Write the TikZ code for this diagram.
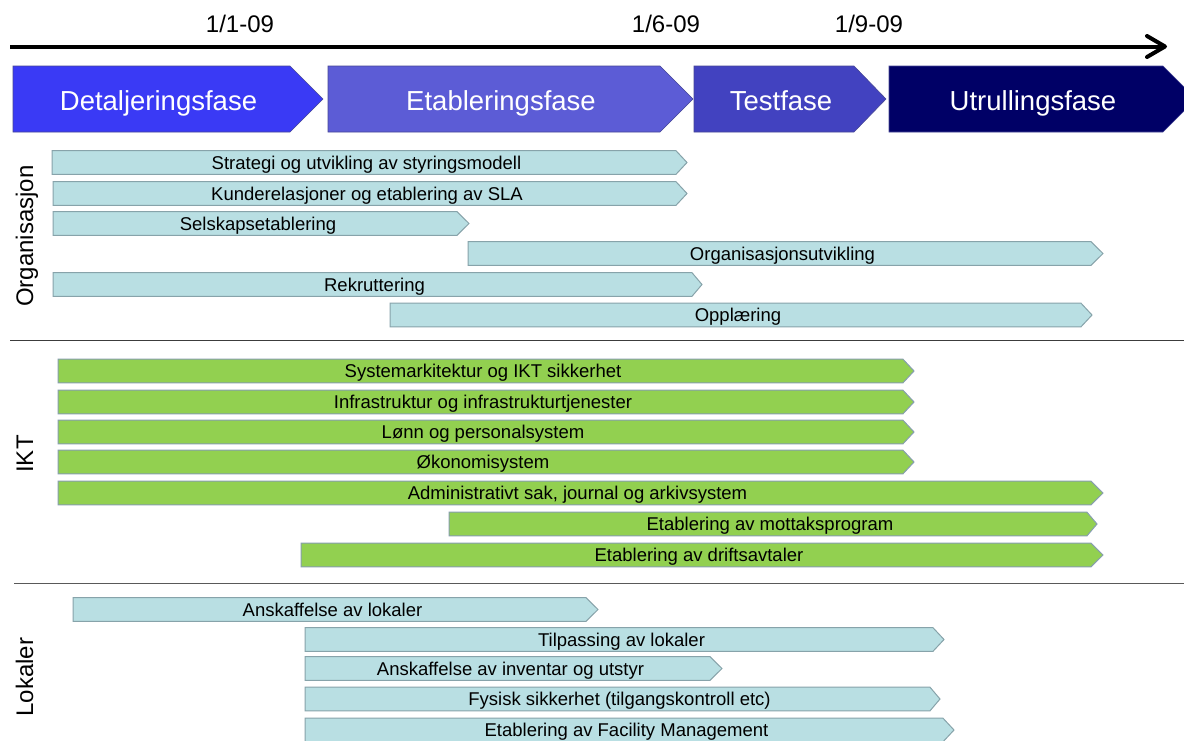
\documentclass[tikz,border=0pt]{standalone}
\usepackage{fontspec}
\setmainfont{Liberation Sans}
\usetikzlibrary{calc}
\definecolor{ph1}{RGB}{58,58,245}
\definecolor{ph2}{RGB}{92,92,214}
\definecolor{ph3}{RGB}{66,66,192}
\definecolor{ph4}{RGB}{0,0,102}
\definecolor{phedge}{RGB}{70,70,150}
\definecolor{aqua}{RGB}{185,223,227}
\definecolor{aquaedge}{RGB}{135,163,170}
\definecolor{grn}{RGB}{146,208,80}
\definecolor{grnedge}{RGB}{135,158,175}
\definecolor{sepcol}{RGB}{60,60,60}
% #1 name, #2 style, #3 y centre, #4 x left, #5 x rect right, #6 x tip, #7 text
\newcommand{\gbar}[7]{%
  \draw[#2] (#4,#3-11.8) -- (#5,#3-11.8) -- (#6,#3) -- (#5,#3+11.8) -- (#4,#3+11.8) -- cycle;
  \node[bartext] (#1) at ({(#4+#6)/2-3},#3+6.6) {#7};
}
% #1 name, #2 colour, #3 x left, #4 x rect right, #5 x tip, #6 text
\newcommand{\phasebox}[6]{%
  \draw[fill=#2, draw=phedge, line width=0.6pt] (#3,66) -- (#4,66) -- (#5,99) -- (#4,132) -- (#3,132) -- cycle;
  \node[phasetext] (#1) at ({(#3+#4)/2+7},110) {#6};
}
\begin{document}
\begin{tikzpicture}[x=1pt,y=-1pt,
  bartext/.style={anchor=base, inner sep=0pt, font=\fontsize{18.5}{20}\selectfont, text=black},
  phasetext/.style={anchor=base, inner sep=0pt, font=\fontsize{27.5}{30}\selectfont, text=white},
  datetext/.style={anchor=base, inner sep=0pt, font=\fontsize{24}{26}\selectfont},
  sidelabel/.style={anchor=base, rotate=90, inner sep=0pt, font=\fontsize{24}{26}\selectfont},
  aquabar/.style={fill=aqua, draw=aquaedge, line width=1pt},
  greenbar/.style={fill=grn, draw=grnedge, line width=1pt},
  sepline/.style={draw=sepcol, line width=1pt},
  timeline/.style={line width=4pt, line cap=round, line join=round}]
\clip (0,0) rectangle (1184,740);
\fill[white] (0,0) rectangle (1184,740);

% timeline
\coordinate (tstart) at (10,46.5);
\coordinate (ttip) at (1165,46.5);
\coordinate (tbarbA) at (1147,36);
\coordinate (tbarbB) at (1147,57);
\draw[timeline, line cap=butt] (tstart) -- (ttip);
\draw[timeline] (tbarbA) -- (ttip) -- (tbarbB);

\node[datetext] (d1) at (240,32) {1/1-09};
\node[datetext] (d2) at (666,32) {1/6-09};
\node[datetext] (d3) at (869,32) {1/9-09};

% phases
\phasebox{p1}{ph1}{13}{290}{323}{Detaljeringsfase}
\phasebox{p2}{ph2}{328}{660}{693}{Etableringsfase}
\phasebox{p3}{ph3}{694}{854}{886}{Testfase}
\phasebox{p4}{ph4}{889}{1163}{1196}{Utrullingsfase}

% Organisasjon
\node[sidelabel] (lorg) at (33,236) {Organisasjon};
\gbar{o1}{aquabar}{162.5}{52}{676}{687}{Strategi og utvikling av styringsmodell}
\gbar{o2}{aquabar}{193.5}{53}{676}{687}{Kunderelasjoner og etablering av SLA}
\gbar{o3}{aquabar}{223.5}{53}{457}{469}{Selskapsetablering}
\gbar{o4}{aquabar}{253.5}{468}{1091}{1103}{Organisasjonsutvikling}
\gbar{o5}{aquabar}{284.5}{53}{692}{702}{Rekruttering}
\gbar{o6}{aquabar}{315}{390}{1081}{1092}{Opplæring}

\draw[sepline] (10,340.5) -- (1184,340.5);

% IKT
\node[sidelabel] (likt) at (33,454) {IKT};
\gbar{i1}{greenbar}{371}{58}{903}{914}{Systemarkitektur og IKT sikkerhet}
\gbar{i2}{greenbar}{402}{58}{903}{914}{Infrastruktur og infrastrukturtjenester}
\gbar{i3}{greenbar}{432}{58}{903}{914}{Lønn og personalsystem}
\gbar{i4}{greenbar}{462}{58}{903}{914}{Økonomisystem}
\gbar{i5}{greenbar}{493}{58}{1091}{1103}{Administrativt sak, journal og arkivsystem}
\gbar{i6}{greenbar}{524}{449}{1087}{1097}{Etablering av mottaksprogram}
\gbar{i7}{greenbar}{555}{301}{1091}{1103}{Etablering av driftsavtaler}

\draw[sepline, draw=sepcol!85] (14,583) -- (1184,583);

% Lokaler
\node[sidelabel] (llok) at (33,677) {Lokaler};
\gbar{l1}{aquabar}{609.5}{73}{586}{598}{Anskaffelse av lokaler}
\gbar{l2}{aquabar}{639.5}{305}{933}{944}{Tilpassing av lokaler}
\gbar{l3}{aquabar}{668.5}{305}{710}{722}{Anskaffelse av inventar og utstyr}
\gbar{l4}{aquabar}{699}{305}{930}{940}{Fysisk sikkerhet (tilgangskontroll etc)}
\gbar{l5}{aquabar}{730}{305}{943}{954}{Etablering av Facility Management}
\end{tikzpicture}
\end{document}
